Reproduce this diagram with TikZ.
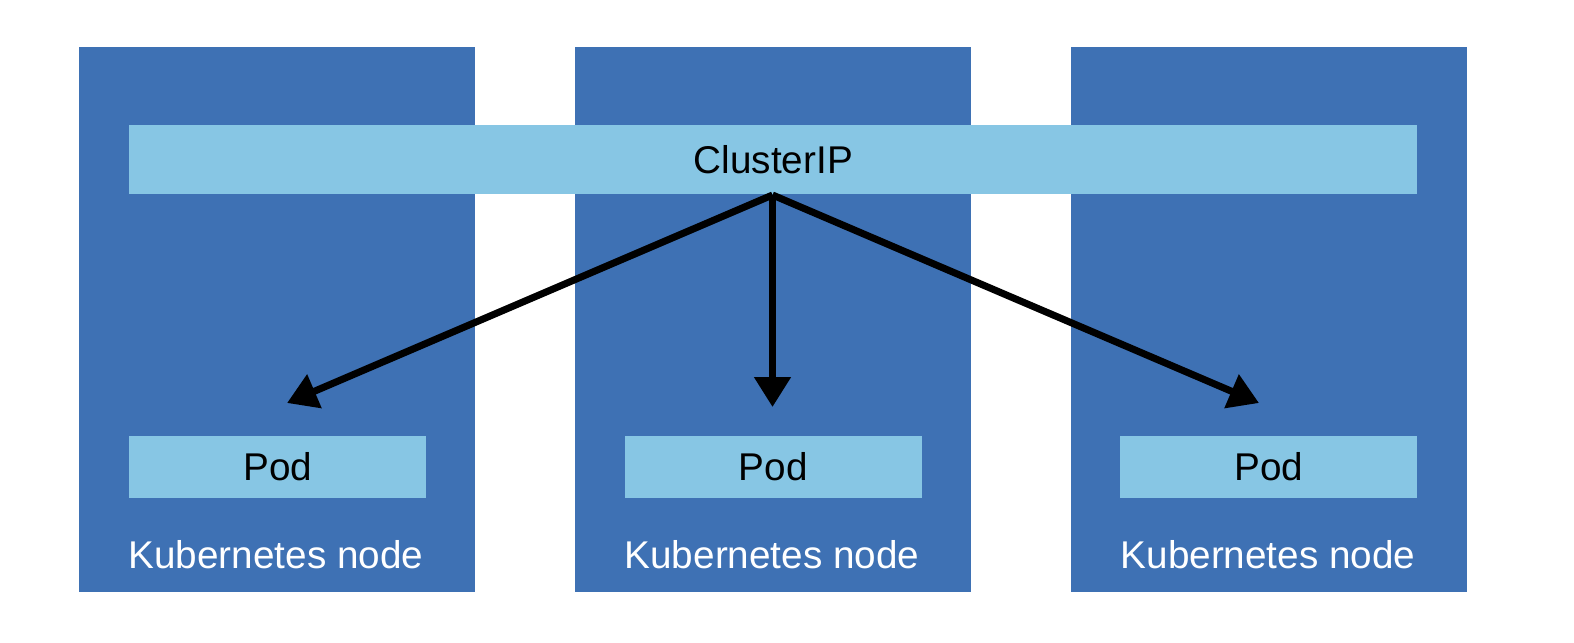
\documentclass[tikz,border=0pt]{standalone}
\usepackage{fontspec}
\setmainfont{Liberation Sans}
\usetikzlibrary{arrows.meta}
\definecolor{knode}{HTML}{3E71B4}
\definecolor{lblue}{HTML}{87C6E4}
\tikzset{
  kbox/.style={fill=knode, draw=none, anchor=north west, inner sep=0, minimum width=3.96cm, minimum height=5.45cm},
  lbar/.style={fill=lblue, draw=none, anchor=north west, inner sep=0, font=\fontsize{11}{13}\selectfont, text=black},
  klabel/.style={text=white, font=\fontsize{11}{13}\selectfont, inner sep=0},
  flow/.style={line width=2pt, -{Triangle[length=8.5pt,width=10pt]}}
}
\begin{document}
\begin{tikzpicture}[x=0.01cm, y=-0.01cm]
\useasboundingbox (0,0) rectangle (1574,642);
\node[kbox] (k1) at (78,46) {};
\node[kbox] (k2) at (574,46) {};
\node[kbox] (k3) at (1070,46) {};
\node[klabel] (l1) at (276,555) {Kubernetes node};
\node[klabel] (l2) at (772,555) {Kubernetes node};
\node[klabel] (l3) at (1268,555) {Kubernetes node};
\node[lbar, minimum width=12.875cm, minimum height=0.685cm] (cip) at (128.5,124.5) {ClusterIP};
\node[lbar, minimum width=2.97cm, minimum height=0.615cm] (p1) at (128.5,435.5) {Pod};
\node[lbar, minimum width=2.97cm, minimum height=0.615cm] (p2) at (624,435.5) {Pod};
\node[lbar, minimum width=2.97cm, minimum height=0.615cm] (p3) at (1119.5,435.5) {Pod};
\coordinate (src) at (772.5,195);
\coordinate (t1) at (287,403);
\coordinate (t2) at (772.5,407);
\coordinate (t3) at (1259,403);
\draw[flow] (src) -- (t1);
\draw[flow] (src) -- (t2);
\draw[flow] (src) -- (t3);
\end{tikzpicture}
\end{document}
